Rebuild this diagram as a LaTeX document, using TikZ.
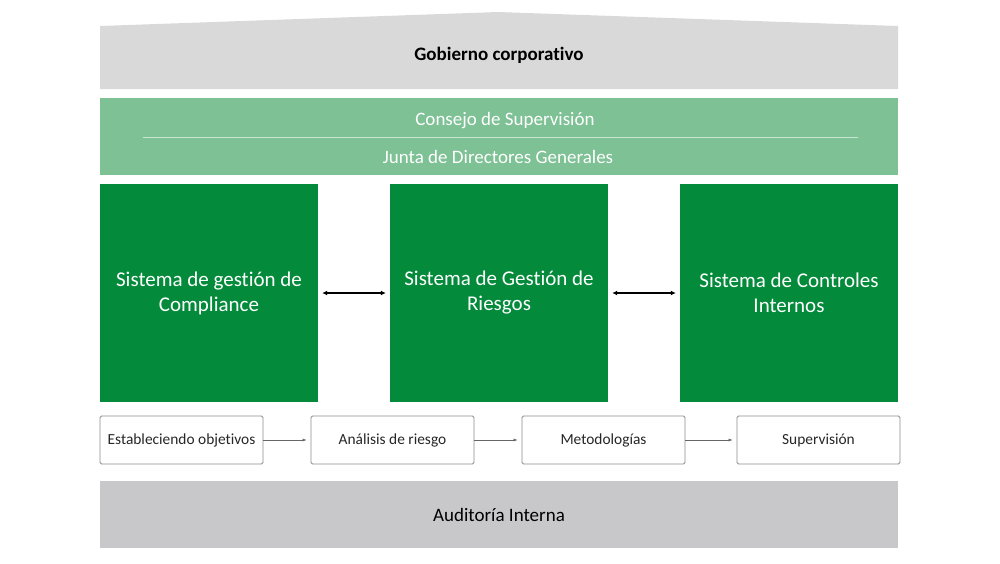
\documentclass[tikz,border=0pt]{standalone}
\usepackage{fontspec}
\setmainfont{Carlito}[Ligatures=NoCommon]
\usetikzlibrary{arrows.meta}
\definecolor{roofgray}{HTML}{D9D9DA}
\definecolor{basegray}{HTML}{C8C8CA}
\definecolor{lightgreen}{HTML}{7DC195}
\definecolor{darkgreen}{HTML}{038A3A}
\definecolor{lineGreen}{HTML}{C9E6D2}
\definecolor{boxborder}{HTML}{8C8C8C}
\tikzset{
  pillar/.style={fill=darkgreen, draw=none, minimum width=218pt, minimum height=218pt, text=white, align=center, font=\fontsize{21}{25}\selectfont, inner sep=0pt},
  stepbox/.style={draw=boxborder, line width=0.8pt, rounded corners=1.5pt, fill=white, minimum width=163pt, minimum height=48pt, font=\fontsize{15.4}{17}\selectfont, text=black!85, inner sep=0pt},
  flow/.style={draw=black!60, line width=0.6pt, -{Latex[length=4pt,width=3pt]}, shorten >=4pt},
  link/.style={draw=black, line width=1.5pt, {Latex[length=5pt,width=5pt]}-{Latex[length=5pt,width=5pt]}},
  label/.style={font=\fontsize{19}{21}\selectfont, inner sep=0pt}
}
\begin{document}
\begin{tikzpicture}[x=1pt,y=-1pt]
\useasboundingbox (0,0) rectangle (1000,563);
% roof
\fill[roofgray] (100,26) -- (498,12) -- (898,26) -- (898,89) -- (100,89) -- cycle;
\node[label, font=\fontsize{19}{21}\selectfont\bfseries] (gob) at (499,55) {Gobierno corporativo};
% green band
\fill[lightgreen] (100,98) rectangle (898,175);
\coordinate (la) at (143,137);
\coordinate (lb) at (858,137);
\draw[lineGreen, line width=1pt] (la) -- (lb);
\node[label, text=white] (cons) at (505,121) {Consejo de Supervisión};
\node[label, text=white] (junta) at (498,157) {Junta de Directores Generales};
% pillars
\node[pillar] (p1) at (209,293) {Sistema de gestión de\\Compliance};
\node[pillar] (p2) at (499,293) {Sistema de Gestión de\\Riesgos};
\node[pillar] (p3) at (789,293) {Sistema de Controles\\Internos};
\draw[link] ([xshift=4pt]p1.east) -- ([xshift=-4pt]p2.west);
\draw[link] ([xshift=4pt]p2.east) -- ([xshift=-4pt]p3.west);
% steps
\node[stepbox] (s1) at (181.5,440) {Estableciendo objetivos};
\node[stepbox] (s2) at (392.5,440) {Análisis de riesgo};
\node[stepbox] (s3) at (603.5,440) {Metodologías};
\node[stepbox] (s4) at (818.5,440) {Supervisión};
\draw[flow] (s1) -- (s2);
\draw[flow] (s2) -- (s3);
\draw[flow] (s3) -- (s4);
% base
\fill[basegray] (100,481) rectangle (898,548);
\node[label] (aud) at (499,515) {Auditoría Interna};
\end{tikzpicture}
\end{document}
